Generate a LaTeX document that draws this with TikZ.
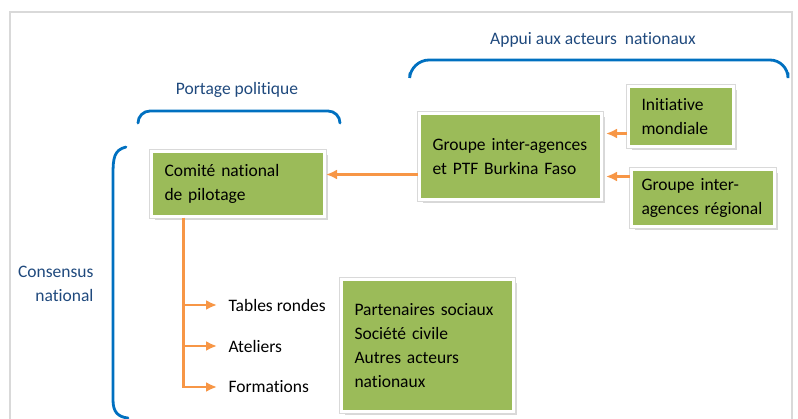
\documentclass[tikz,border=0pt]{standalone}
\usepackage{fontspec}
\setmainfont{Carlito}[Ligatures={NoCommon}]
\usetikzlibrary{shapes,arrows,arrows.meta,shadows}
\definecolor{vertbloc}{RGB}{155,187,89}
\definecolor{orangefleche}{RGB}{247,150,70}
\definecolor{bleuaccolade}{RGB}{0,112,192}
\definecolor{bleutitre}{RGB}{31,73,125}
\definecolor{grisbord}{RGB}{217,217,217}
\tikzstyle{bloc} = [inner xsep = 13, rectangle, fill=vertbloc, draw=white, line width=3pt, drop shadow={shadow xshift=3.5pt, shadow yshift=-3.5pt, fill=black!30}, preaction={draw=black!15, line width=4.5pt}, anchor=north west, align=left, font=\fontsize{17.5}{24}\selectfont]
\tikzstyle{texte} = [anchor=west, font=\fontsize{17.5}{24}\selectfont]
\tikzstyle{titre} = [text=bleutitre, font=\fontsize{17.5}{24}\selectfont]
\tikzstyle{accolade} = [draw=bleuaccolade, line width=2.8pt, line cap=round]
\tikzstyle{fleche} = [draw=orangefleche, line width=2.5pt, -{Latex[length=11pt, width=10pt]}]
\tikzstyle{cadre} = [draw=grisbord, line width=2.5pt]

\begin{document}
\begin{tikzpicture}[x=1pt, y=-1pt]
\useasboundingbox (0,0) rectangle (798,419);
\draw [cadre] (10,419) |- (792,12) -- (792,419);

\node [bloc, text width=147pt, minimum height=65pt] (comite) at (150,150) {Comité national\\de pilotage};
\node [bloc, text width=156pt, minimum height=86pt] (groupe) at (418,112) {Groupe inter-agences\\et PTF Burkina Faso};
\node [bloc, text width=79pt, minimum height=60pt] (initiative) at (627,85) {Initiative\\mondiale};
\node [bloc, inner xsep = 10, text width=123pt, minimum height=57pt] (regional) at (630,168) {Groupe inter-\\agences régional};
\node [bloc, text width=146pt, minimum height=132pt] (partenaires) at (340,278) {Partenaires sociaux\\Société civile\\Autres acteurs\\nationaux};

\node [texte] (tables) at (225,305) {Tables rondes};
\node [texte] (ateliers) at (225,346) {Ateliers};
\node [texte] (formations) at (225,387) {Formations};

\node [titre] (portage) at (237,90) {Portage politique};
\node [titre] (appui) at (593,40) {Appui aux acteurs\ \ nationaux};
\node [titre, align=right, anchor=east] (consensus) at (97,284) {Consensus\\national};

% accolades
\draw [accolade, rounded corners=12pt] (138,123) -- (138,111) -- (340,111) -- (340,123);
\draw [accolade, rounded corners=18pt] (410,73) -- (411,60) -- (788,60) -- (788,73);
\draw [accolade] (126,147) .. controls (114,150) and (113,158) .. (113,175) -- (113,400) .. controls (113,412) and (118,417) .. (128,418);

% fleches
\draw [fleche] ([yshift=-18pt]groupe.west) -- ([yshift=-18pt]groupe.west -| comite.east);
\draw [fleche, shorten >=3pt] ([yshift=-17pt]initiative.west) -- ([yshift=-17pt]initiative.west -| groupe.east);
\draw [fleche, shorten >=3pt] ([yshift=21.5pt]regional.west) -- ([yshift=21.5pt]regional.west -| groupe.east);

\coordinate (tronc) at ([xshift=-54.5pt]comite.south);
\draw [fleche, shorten >=8pt] (tronc) |- (tables.west);
\draw [fleche, shorten >=8pt] (tronc) |- (ateliers.west);
\draw [fleche, shorten >=8pt] (tronc) |- (formations.west);

\end{tikzpicture}
\end{document}
